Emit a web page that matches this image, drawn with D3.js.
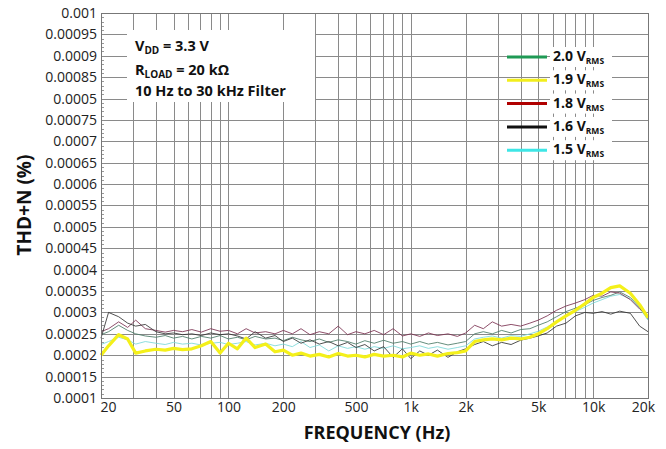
<!DOCTYPE html>
<html>
<head>
  <meta charset="utf-8">
  <script src="https://d3js.org/d3.v7.min.js"></script>
  <style>
    body { margin: 0; background: white; font-family: "Open Sans", sans-serif; }
    .tick text { font-family: "Open Sans", sans-serif; font-size: 14px; fill: #222; }
    .lbl { font-family: "Open Sans", sans-serif; font-weight: bold; fill: #111; }
  </style>
</head>
<body>
<script type="text/javascript">
// frequency points (Hz)
var freqs = [20, 22, 25, 28, 31, 35, 40, 45, 50, 56, 63, 71, 80, 90, 100, 112, 125, 140, 160, 180,
             200, 224, 250, 280, 315, 355, 400, 450, 500, 560, 630, 710, 800, 900, 1000, 1120, 1250, 1400, 1600, 1800,
             2000, 2240, 2500, 2800, 3150, 3550, 4000, 4500, 5000, 5600, 6300, 7100, 8000, 9000, 10000, 11200, 12500, 14000, 16000, 18000, 20000];

// THD+N (%) for each output level
var thd20 = [0.000248, 0.000255, 0.000270, 0.000258, 0.000250, 0.000245, 0.000242, 0.000246, 0.000240, 0.000244,
             0.000238, 0.000244, 0.000240, 0.000246, 0.000238, 0.000242, 0.000236, 0.000244, 0.000238, 0.000240,
             0.000234, 0.000242, 0.000236, 0.000232, 0.000238, 0.000230, 0.000236, 0.000232, 0.000226, 0.000234,
             0.000228, 0.000235, 0.000228, 0.000232, 0.000226, 0.000232, 0.000226, 0.000230, 0.000224, 0.000228,
             0.000232, 0.000250, 0.000255, 0.000250, 0.000258, 0.000252, 0.000260, 0.000262, 0.000270, 0.000278,
             0.000290, 0.000302, 0.000310, 0.000318, 0.000328, 0.000335, 0.000340, 0.000348, 0.000335, 0.000312, 0.000285];
var thd19 = [0.000200, 0.000222, 0.000248, 0.000238, 0.000205, 0.000210, 0.000214, 0.000212, 0.000216, 0.000213,
             0.000215, 0.000222, 0.000232, 0.000205, 0.000228, 0.000215, 0.000240, 0.000218, 0.000226, 0.000208,
             0.000212, 0.000200, 0.000205, 0.000198, 0.000202, 0.000196, 0.000204, 0.000198, 0.000200, 0.000196,
             0.000202, 0.000198, 0.000200, 0.000196, 0.000205, 0.000200, 0.000203, 0.000198, 0.000204, 0.000206,
             0.000210, 0.000232, 0.000236, 0.000238, 0.000236, 0.000240, 0.000238, 0.000242, 0.000250, 0.000262,
             0.000278, 0.000292, 0.000305, 0.000320, 0.000335, 0.000345, 0.000358, 0.000362, 0.000345, 0.000318, 0.000288];
var thd18 = [0.000255, 0.000262, 0.000278, 0.000265, 0.000282, 0.000262, 0.000258, 0.000254, 0.000258, 0.000255,
             0.000260, 0.000254, 0.000262, 0.000256, 0.000258, 0.000250, 0.000262, 0.000252, 0.000255, 0.000250,
             0.000258, 0.000250, 0.000262, 0.000248, 0.000255, 0.000250, 0.000268, 0.000248, 0.000255, 0.000250,
             0.000258, 0.000248, 0.000262, 0.000245, 0.000250, 0.000244, 0.000252, 0.000246, 0.000250, 0.000244,
             0.000252, 0.000270, 0.000262, 0.000278, 0.000268, 0.000272, 0.000268, 0.000275, 0.000282, 0.000292,
             0.000305, 0.000315, 0.000322, 0.000330, 0.000340, 0.000338, 0.000348, 0.000345, 0.000330, 0.000308, 0.000292];
var thd16 = [0.000240, 0.000300, 0.000290, 0.000275, 0.000268, 0.000272, 0.000255, 0.000250, 0.000252, 0.000248,
             0.000250, 0.000246, 0.000252, 0.000248, 0.000250, 0.000245, 0.000238, 0.000255, 0.000240, 0.000246,
             0.000232, 0.000240, 0.000228, 0.000236, 0.000226, 0.000232, 0.000222, 0.000230, 0.000218, 0.000225,
             0.000210, 0.000220, 0.000195, 0.000215, 0.000192, 0.000210, 0.000200, 0.000212, 0.000195, 0.000208,
             0.000215, 0.000225, 0.000232, 0.000222, 0.000230, 0.000225, 0.000235, 0.000240, 0.000245, 0.000252,
             0.000268, 0.000275, 0.000292, 0.000300, 0.000298, 0.000302, 0.000296, 0.000303, 0.000298, 0.000268, 0.000255];
var thd15 = [0.000225, 0.000232, 0.000242, 0.000236, 0.000226, 0.000232, 0.000228, 0.000225, 0.000230, 0.000226,
             0.000228, 0.000224, 0.000228, 0.000230, 0.000225, 0.000228, 0.000232, 0.000224, 0.000228, 0.000222,
             0.000226, 0.000220, 0.000232, 0.000218, 0.000224, 0.000210, 0.000222, 0.000216, 0.000220, 0.000214,
             0.000220, 0.000216, 0.000222, 0.000215, 0.000218, 0.000222, 0.000216, 0.000220, 0.000214, 0.000218,
             0.000222, 0.000238, 0.000242, 0.000245, 0.000240, 0.000246, 0.000244, 0.000250, 0.000256, 0.000266,
             0.000280, 0.000292, 0.000302, 0.000312, 0.000322, 0.000330, 0.000338, 0.000342, 0.000332, 0.000310, 0.000282];

var seriesNames = ["2.0", "1.9", "1.8", "1.6", "1.5"];
var seriesColors = ["#1f9a55", "#f2ee1c", "#b00000", "#111111", "#3ee6e6"];
// thin curves look muted on the original
var curveColors = ["#4a7a66", "#f4f01a", "#7a3050", "#333333", "#7ad8d8"];

// axis ticks, as printed on the original
var xTickValues = [20, 50, 100, 200, 500, 1000, 2000, 5000, 10000, 20000];
var xTickLabels = ["20", "50", "100", "200", "500", "1k", "2k", "5k", "10k", "20k"];
var yTickValues = [0.0001, 0.00015, 0.0002, 0.00025, 0.0003, 0.00035, 0.0004, 0.00045, 0.0005, 0.00055,
                   0.0006, 0.00065, 0.0007, 0.00075, 0.0008, 0.00085, 0.0009, 0.00095, 0.001];
var yTickLabels = ["0.0001", "0.00015", "0.0002", "0.00025", "0.0003", "0.00035", "0.0004", "0.00045", "0.0005", "0.00055",
                   "0.0006", "0.00065", "0.0007", "0.00075", "0.0005", "0.00085", "0.0009", "0.00095", "0.001"];

function draw() {
  var W = 666, H = 449;
  var pL = 101, pR = 648, pT = 13, pB = 398;

  var svg = d3.select("body").append("svg").attr("width", W).attr("height", H);

  var x = d3.scaleLog().domain([20, 20000]).range([pL, pR]);
  var y = d3.scaleLinear().domain([0.0001, 0.001]).range([pB, pT]);

  // grid
  var gridX = [];
  [10, 100, 1000, 10000].forEach(function(dec){
    for (var k = 1; k < 10; k++) { var f = dec * k; if (f >= 20 && f <= 20000) gridX.push(f); }
  });

  svg.append("g").selectAll("line").data(gridX).enter().append("line")
    .attr("x1", function(d){ return Math.round(x(d)) + 0.5; }).attr("x2", function(d){ return Math.round(x(d)) + 0.5; })
    .attr("y1", pT).attr("y2", pB)
    .style("stroke", "#8a8a8a").style("stroke-width", 1);

  svg.append("g").selectAll("line").data(yTickValues).enter().append("line")
    .attr("x1", pL).attr("x2", pR)
    .attr("y1", function(d){ return Math.round(y(d)) + 0.5; }).attr("y2", function(d){ return Math.round(y(d)) + 0.5; })
    .style("stroke", "#8a8a8a").style("stroke-width", 1);

  // minor ticks on left axis
  var minor = [];
  for (var i = 0; i < yTickValues.length - 1; i++) {
    for (var j = 1; j < 5; j++) minor.push(yTickValues[i] + j * 0.00001);
  }
  svg.append("g").selectAll("line").data(minor).enter().append("line")
    .attr("x1", pL).attr("x2", pL + 3)
    .attr("y1", function(d){ return Math.round(y(d)) + 0.5; }).attr("y2", function(d){ return Math.round(y(d)) + 0.5; })
    .style("stroke", "#999").style("stroke-width", 1);

  // white box behind the conditions text
  svg.append("rect").attr("x", 127).attr("y", 30).attr("width", 188).attr("height", 72).style("fill", "white");

  // curves
  var allSeries = [thd20, thd19, thd18, thd16, thd15];
  var drawOrder = [4, 0, 2, 3, 1];
  var line = d3.line()
    .x(function(d){ return x(d[0]); })
    .y(function(d){ return y(d[1]); });

  drawOrder.forEach(function(s){
    var pts = freqs.map(function(f, i){ return [f, allSeries[s][i]]; });
    svg.append("path").datum(pts)
      .attr("d", line)
      .style("fill", "none")
      .style("stroke", curveColors[s])
      .style("stroke-width", s == 1 ? 3.2 : 1)
      .style("stroke-opacity", s == 1 ? 1 : 0.85)
      .style("stroke-linejoin", "round");
  });

  // frame
  svg.append("rect").attr("x", pL + 0.5).attr("y", pT + 0.5).attr("width", pR - pL).attr("height", pB - pT)
    .style("fill", "none").style("stroke", "#777").style("stroke-width", 1);

  // axes
  var yAxis = d3.axisLeft(y).tickValues(yTickValues).tickSize(0).tickPadding(4)
    .tickFormat(function(d, i){ return yTickLabels[i]; });
  var gy = svg.append("g").attr("transform", "translate(" + pL + ",0)").call(yAxis);
  gy.select(".domain").remove();

  var xAxis = d3.axisBottom(x).tickValues(xTickValues).tickSize(0).tickPadding(4)
    .tickFormat(function(d, i){ return xTickLabels[i]; });
  var gx = svg.append("g").attr("transform", "translate(0," + pB + ")").call(xAxis);
  gx.select(".domain").remove();
  gx.selectAll(".tick text")
    .attr("dx", function(d, i){ return i == 0 ? 7 : (i == xTickLabels.length - 1 ? -5 : 0); });

  // axis titles
  svg.append("text").attr("class", "lbl")
    .attr("x", 377).attr("y", 439).attr("text-anchor", "middle")
    .style("font-size", "18px").text("FREQUENCY (Hz)");
  svg.append("text").attr("class", "lbl")
    .attr("transform", "translate(31,205) rotate(-90)").attr("text-anchor", "middle")
    .style("font-size", "19px").text("THD+N (%)");

  // conditions
  var cond = svg.append("text").attr("class", "lbl").attr("x", 135).attr("y", 51).style("font-size", "14.5px");
  cond.append("tspan").text("V");
  cond.append("tspan").attr("dy", 3).style("font-size", "10px").text("DD");
  cond.append("tspan").attr("dy", -3).text(" = 3.3 V");
  var cond2 = svg.append("text").attr("class", "lbl").attr("x", 135).attr("y", 75).style("font-size", "14.5px");
  cond2.append("tspan").text("R");
  cond2.append("tspan").attr("dy", 3).style("font-size", "10px").text("LOAD");
  cond2.append("tspan").attr("dy", -3).text(" = 20 kΩ");
  svg.append("text").attr("class", "lbl").attr("x", 135).attr("y", 96).style("font-size", "14.5px")
    .text("10 Hz to 30 kHz Filter");

  // legend
  var legendOrder = [0, 1, 2, 3, 4];
  var lg = svg.append("g").selectAll("g").data(legendOrder).enter().append("g")
    .attr("transform", function(d, i){ return "translate(0," + (57 + i * 23.3) + ")"; });
  lg.append("rect").attr("x", 550).attr("y", -10).attr("width", 62).attr("height", 20).style("fill", "white");
  lg.append("line").attr("x1", 507).attr("x2", 547).attr("y1", 0).attr("y2", 0)
    .style("stroke", function(d){ return seriesColors[d]; }).style("stroke-width", 3);
  var lt = lg.append("text").attr("class", "lbl").attr("x", 553).attr("y", 4).style("font-size", "14px");
  lt.append("tspan").text(function(d){ return seriesNames[d] + " V"; });
  lt.append("tspan").attr("dy", 3).style("font-size", "8.5px").text("RMS");
}

draw();
</script>
</body>
</html>
